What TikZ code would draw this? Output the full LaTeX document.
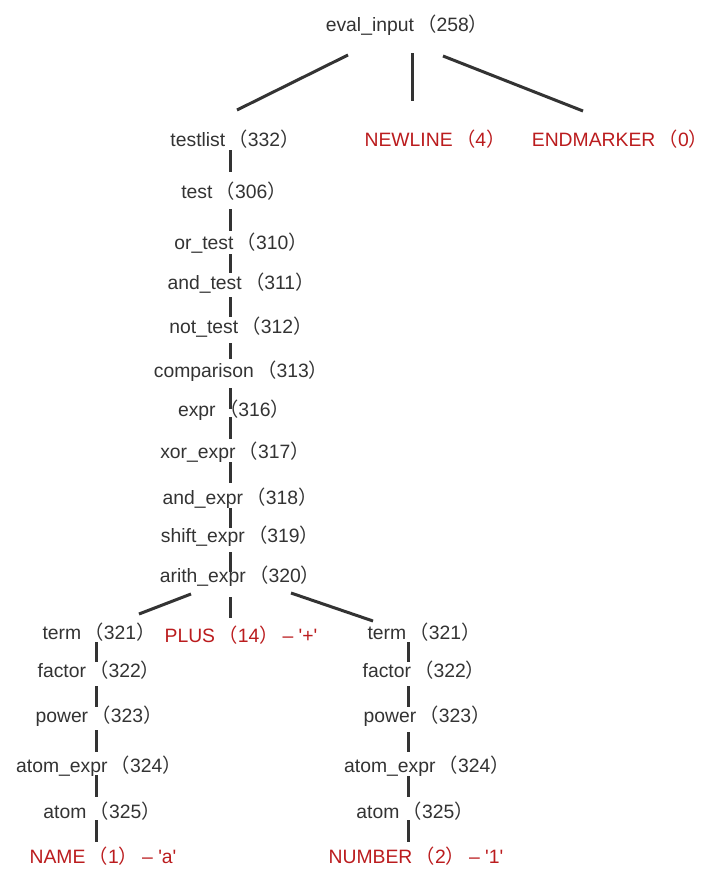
\documentclass[tikz,border=0pt]{standalone}
\usepackage{fontspec}
\setmainfont{Liberation Sans}
\newfontfamily\cjk{Noto Sans CJK SC}
\usetikzlibrary{calc}
\definecolor{txt}{HTML}{333333}
\definecolor{tok}{RGB}{187,28,30}
\newcommand{\LP}{\kern2.5pt{\cjk （}}
\newcommand{\RP}{{\cjk ）}\kern-6pt}
\newcommand{\DS}{\kern9pt–\kern4pt}
\newcommand{\Q}{\textquotesingle}
\newcommand{\conn}[6]{\draw[edgeline] ($(#1.base)+(#2,#3)$) -- ($(#4.base)+(#5,#6)$);}
\begin{document}
\begin{tikzpicture}[x=0.75pt,y=-0.75pt,
  every node/.style={font=\fontsize{14.5}{17}\selectfont, inner sep=0pt, anchor=base},
  nt/.style={text=txt},
  tk/.style={text=tok},
  edgeline/.style={draw=txt, line width=2.25pt}]
\fill[white] (0,0) rectangle (712,896);
\useasboundingbox (0,0) rectangle (712,896);
% nodes
\node[nt] (root) at (403,31) {eval\_input\LP 258\RP};
\node[nt] (testlist) at (231,146) {testlist\LP 332\RP};
\node[tk] (newline) at (431,146) {NEWLINE\LP 4\RP};
\node[tk] (endmarker) at (616,146) {ENDMARKER\LP 0\RP};
\node[nt] (test) at (230,198) {test\LP 306\RP};
\node[nt] (ortest) at (237,249) {or\_test\LP 310\RP};
\node[nt] (andtest) at (237,289) {and\_test\LP 311\RP};
\node[nt] (nottest) at (237,333) {not\_test\LP 312\RP};
\node[nt] (comparison) at (237,377) {comparison\LP 313\RP};
\node[nt] (expr) at (230,416) {expr\LP 316\RP};
\node[nt] (xorexpr) at (231,458) {xor\_expr\LP 317\RP};
\node[nt] (andexpr) at (236,504) {and\_expr\LP 318\RP};
\node[nt] (shiftexpr) at (236,542) {shift\_expr\LP 319\RP};
\node[nt] (arithexpr) at (236,582) {arith\_expr\LP 320\RP};
\node[nt] (lterm) at (95,639) {term\LP 321\RP};
\node[tk] (plus) at (241,642) {PLUS\LP 14\RP\DS\Q+\Q};
\node[nt] (rterm) at (420,639) {term\LP 321\RP};
\node[nt] (lfactor) at (95,677) {factor\LP 322\RP};
\node[nt] (lpower) at (95,722) {power\LP 323\RP};
\node[nt] (latomexpr) at (95,772) {atom\_expr\LP 324\RP};
\node[nt] (latom) at (98,818) {atom\LP 325\RP};
\node[tk] (name) at (103,863) {NAME\LP 1\RP\DS\Q a\Q};
\node[nt] (rfactor) at (420,677) {factor\LP 322\RP};
\node[nt] (rpower) at (423,722) {power\LP 323\RP};
\node[nt] (ratomexpr) at (423,772) {atom\_expr\LP 324\RP};
\node[nt] (ratom) at (411,818) {atom\LP 325\RP};
\node[tk] (number) at (416,863) {NUMBER\LP 2\RP\DS\Q 1\Q};
% connectors
\conn{root}{-55}{24}{testlist}{6}{-36}
\conn{root}{9}{22}{newline}{-19}{-45}
\conn{root}{40}{25}{endmarker}{-33}{-35}
\conn{testlist}{-1}{4}{test}{0}{-26}
\conn{test}{0}{11}{ortest}{-7}{-18}
\conn{ortest}{-7}{5}{andtest}{-7}{-16}
\conn{andtest}{-7}{8}{nottest}{-7}{-16}
\conn{nottest}{-7}{10}{comparison}{-7}{-18}
\conn{comparison}{-7}{11}{expr}{0}{-7}
\conn{expr}{0}{1}{xorexpr}{-1}{-19}
\conn{xorexpr}{-1}{4}{andexpr}{-6}{-21}
\conn{andexpr}{-6}{4}{shiftexpr}{-6}{-14}
\conn{shiftexpr}{-6}{10}{arithexpr}{-6}{-10}
\conn{arithexpr}{-6}{15}{plus}{-11}{-24}
\conn{arithexpr}{-45}{12}{lterm}{44}{-25}
\conn{arithexpr}{55}{11}{rterm}{-47}{-18}
\conn{lterm}{1}{3}{lfactor}{1}{-15}
\conn{lfactor}{1}{9}{lpower}{1}{-15}
\conn{lpower}{1}{8}{latomexpr}{1}{-20}
\conn{latomexpr}{1}{3}{latom}{-2}{-21}
\conn{latom}{-2}{2}{name}{-7}{-21}
\conn{rterm}{-12}{3}{rfactor}{-12}{-15}
\conn{rfactor}{-12}{9}{rpower}{-15}{-15}
\conn{rpower}{-15}{10}{ratomexpr}{-15}{-20}
\conn{ratomexpr}{-15}{4}{ratom}{-3}{-21}
\conn{ratom}{-3}{2}{number}{-8}{-21}
\end{tikzpicture}
\end{document}
